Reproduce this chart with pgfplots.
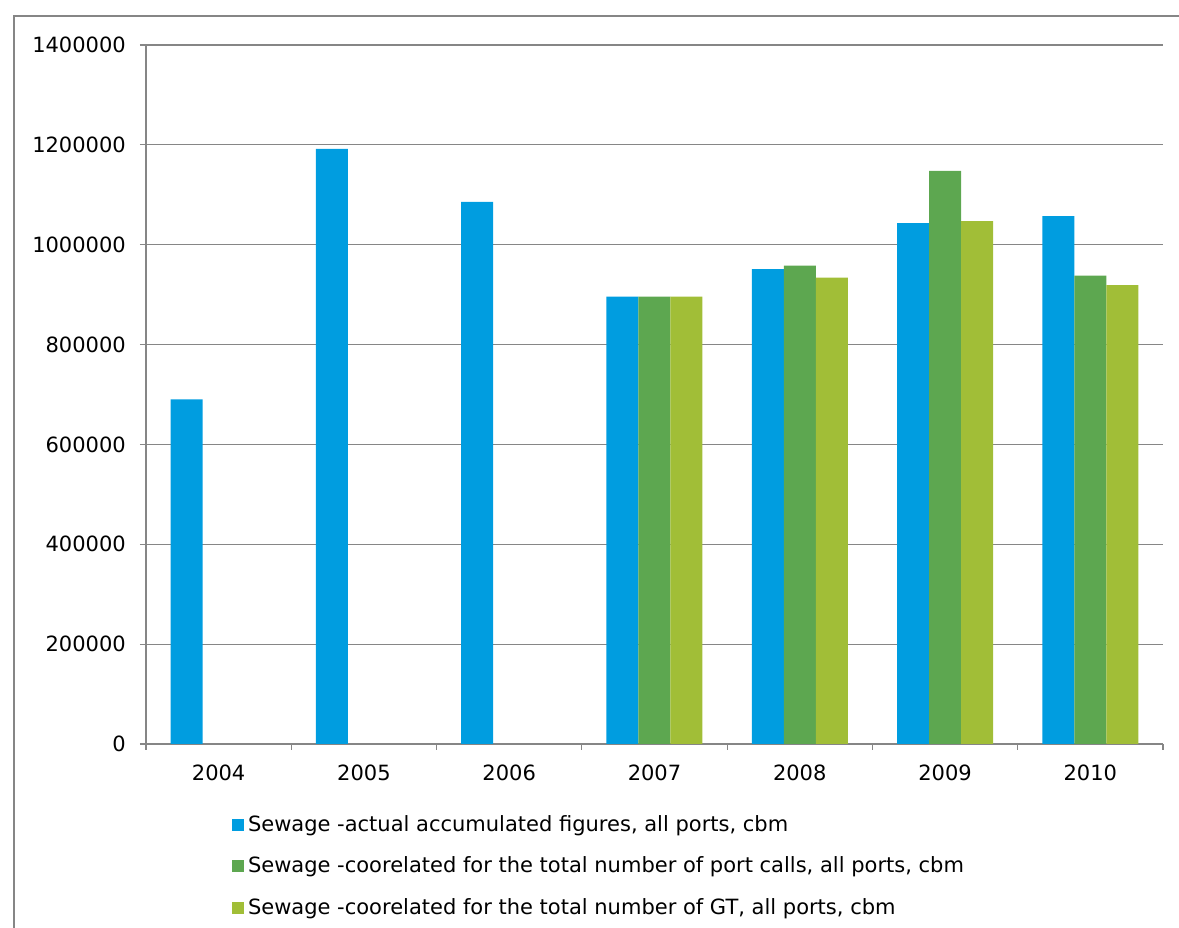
\documentclass[border=0pt]{standalone}
\usepackage{pgfplots}
\pgfplotsset{compat=1.18}
\usepackage{fontspec}
\setmainfont{DejaVu Sans}
\definecolor{cblue}{RGB}{0,157,224}
\definecolor{cgreen}{RGB}{93,167,80}
\definecolor{clight}{RGB}{161,190,55}
\definecolor{cgrid}{RGB}{134,134,134}
\begin{document}
\fontsize{21}{25}\selectfont
\begin{tikzpicture}
\useasboundingbox (0,0) rectangle (1179pt,928pt);
\draw[cgrid, line width=1.6pt] (14pt,-20pt) -- (14pt,912pt) -- (1200pt,912pt);
\begin{axis}[
  at={(146pt,184pt)}, anchor=south west,
  scale only axis, width=1017pt, height=699pt,
  ybar=0pt, bar width=32pt,
  xmin=-0.5, xmax=6.5, ymin=0, ymax=1400000,
  xtick={-0.5,0.5,...,6.5},
  x tick label as interval,
  xticklabels={2004,2005,2006,2007,2008,2009,2010},
  ytick={0,200000,...,1400000},
  scaled y ticks=false,
  /pgf/number format/.cd, fixed, 1000 sep={}, assume math mode=true, /pgfplots/.cd,
  axis lines=left, axis line style={-, cgrid, line width=1.2pt},
  ymajorgrids, grid style={cgrid, line width=1.2pt},
  tick align=outside, major tick length=6pt,
  tick style={cgrid, line width=1.2pt},
  yticklabel style={xshift=-7pt},
  xticklabel style={yshift=-8pt},
  ticklabel style={font=\fontsize{21}{25}\selectfont},
  legend style={draw=none, fill=none, inner sep=0pt, outer sep=0pt,
    at={(0.0846,-0.1017)}, anchor=north west,
    nodes={inner sep=0pt}, row sep=22.5pt, column sep=4pt,
    font=\fontsize{21}{25}\selectfont},
  legend cell align=left,
  legend image code/.code={\path[#1,draw=none] (0pt,-6pt) rectangle (12pt,6pt);},
]
\addplot[fill=cblue, draw=none] coordinates {(0,690000) (1,1192000) (2,1086000) (3,896000) (4,951000) (5,1043000) (6,1057000)};
\addplot[fill=cgreen, draw=none] coordinates {(3,896000) (4,958000) (5,1148000) (6,938000)};
\addplot[fill=clight, draw=none] coordinates {(3,896000) (4,934000) (5,1047000) (6,919000)};
\legend{{Sewage -actual accumulated figures, all ports, cbm},
{Sewage -coorelated for the total number of port calls, all ports, cbm},
{Sewage -coorelated for the total number of GT, all ports, cbm}}
\end{axis}
\end{tikzpicture}
\end{document}
